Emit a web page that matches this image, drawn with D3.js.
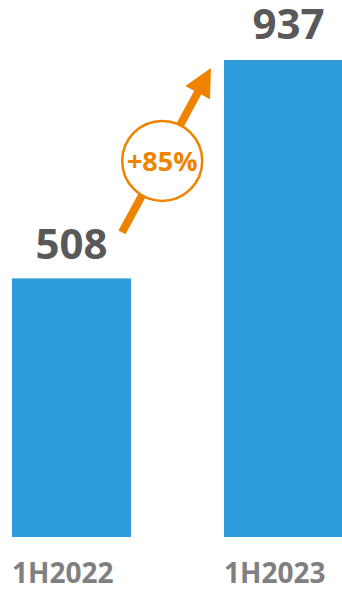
<!DOCTYPE html>
<html>
<head>
<meta charset="utf-8">
<script src="https://cdn.jsdelivr.net/npm/d3@7"></script>
<style>
  body { margin: 0; background: #fff; }
  svg { display: block; font-family: "Open Sans", sans-serif; }
</style>
</head>
<body>
<div id="chart"></div>
<script>
// CONST and GLOBALS
let width = 342;
let height = 589;
let margin = { top: 60, bottom: 52, left: 12, right: -1 };

// data
let periods = ['1H2022', '1H2023'];
let values = [508, 937];
let growthLabel = '+85%';

let blue = '#2E9CDA';
let orange = '#EF8300';

let svg = d3
  .select('#chart')
  .append('svg')
  .attr('width', width)
  .attr('height', height);

let xScale = d3
  .scaleBand()
  .domain(periods)
  .range([margin.left, width - margin.right])
  .paddingInner(0.4387)
  .paddingOuter(0);

let yScale = d3
  .scaleLinear()
  .domain([0, d3.max(values)])
  .range([height - margin.bottom, margin.top]);

let data = periods.map((p, i) => ({ period: p, value: values[i] }));

// bars
svg
  .selectAll('.bar')
  .data(data)
  .join('rect')
  .attr('class', 'bar')
  .attr('x', d => xScale(d.period))
  .attr('y', d => yScale(d.value))
  .attr('width', xScale.bandwidth())
  .attr('height', d => yScale(0) - yScale(d.value))
  .attr('fill', blue);

// value labels
svg
  .selectAll('.value')
  .data(data)
  .join('text')
  .attr('class', 'value')
  .attr('x', (d, i) => xScale(d.period) + xScale.bandwidth() / 2 + (i === 1 ? 5 : 0))
  .attr('y', (d, i) => yScale(d.value) - (i === 1 ? 21 : 19))
  .attr('text-anchor', 'middle')
  .attr('font-size', 42)
  .attr('font-weight', 700)
  .attr('fill', '#595959')
  .text(d => d.value);

// category labels
let xAxis = d3.axisBottom(xScale).tickSize(0).tickPadding(0);
let gx = svg
  .append('g')
  .attr('class', 'axis x-axis')
  .attr('transform', `translate(0,${height - margin.bottom})`)
  .call(xAxis);
gx.select('.domain').remove();
gx.selectAll('.tick')
  .attr('transform', d => `translate(${xScale(d)},0)`);
gx.selectAll('.tick text')
  .attr('text-anchor', 'start')
  .attr('dy', null)
  .attr('y', 46)
  .attr('font-family', '"Open Sans", sans-serif')
  .attr('font-size', 28)
  .attr('font-weight', 700)
  .attr('fill', '#808080');

// growth arrow
let x0 = xScale(periods[0]) + xScale.bandwidth() - 9;
let y0 = yScale(values[0]) - 46;
let x1 = xScale(periods[1]) - 13;
let y1 = yScale(values[1]) + 8;
let len = Math.hypot(x1 - x0, y1 - y0);
let ux = (x1 - x0) / len;
let uy = (y1 - y0) / len;
let headLen = 28;
let headHalf = 14;
let bx = x1 - ux * headLen;
let by = y1 - uy * headLen;

svg
  .append('line')
  .attr('x1', x0)
  .attr('y1', y0)
  .attr('x2', bx + ux * 2)
  .attr('y2', by + uy * 2)
  .attr('stroke', orange)
  .attr('stroke-width', 8);

svg
  .append('path')
  .attr('d', d3.line()([
    [x1, y1],
    [bx - uy * headHalf, by + ux * headHalf],
    [bx + uy * headHalf, by - ux * headHalf],
  ]) + 'Z')
  .attr('fill', orange);

// growth circle
let t = 0.435;
let cx = x0 + (x1 - x0) * t + 1.5;
let cy = y0 + (y1 - y0) * t;

svg
  .append('circle')
  .attr('cx', cx)
  .attr('cy', cy)
  .attr('r', 40)
  .attr('fill', '#fff')
  .attr('stroke', orange)
  .attr('stroke-width', 2.5);

svg
  .append('text')
  .attr('x', cx)
  .attr('y', cy + 10)
  .attr('text-anchor', 'middle')
  .attr('font-size', 27)
  .attr('font-weight', 700)
  .attr('fill', orange)
  .text(growthLabel);
</script>
</body>
</html>
